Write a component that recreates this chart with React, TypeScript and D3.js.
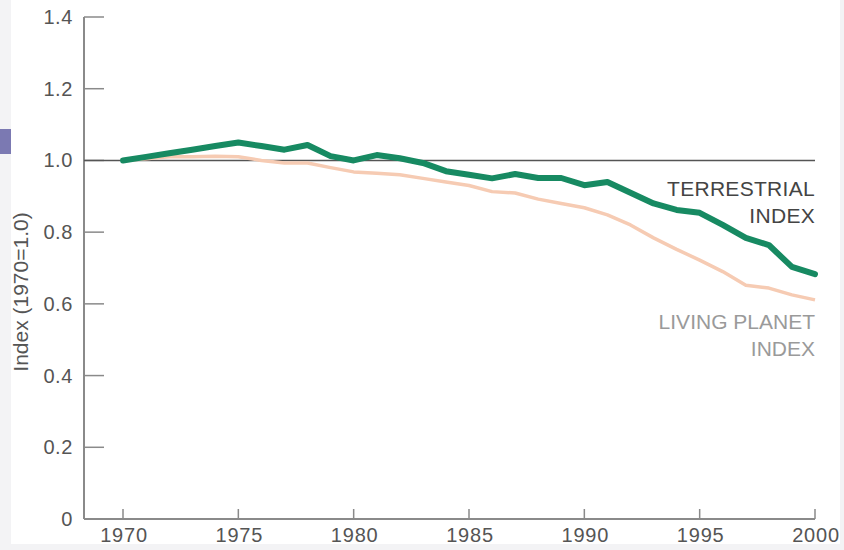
import React from 'react';
import * as d3 from 'd3';

// years 1970..2000
const years = d3.range(1970, 2001);

const terrestrial = [
  1.0, 1.01, 1.02, 1.03, 1.04, 1.05, 1.04, 1.03, 1.043, 1.012, 1.0,
  1.015, 1.006, 0.993, 0.97, 0.96, 0.95, 0.962, 0.951, 0.951, 0.931,
  0.94, 0.91, 0.88, 0.862, 0.854, 0.82, 0.784, 0.764, 0.703, 0.683,
];

const livingPlanet = [
  1.0, 1.005, 1.01, 1.01, 1.012, 1.01, 1.0, 0.993, 0.993, 0.98, 0.968,
  0.964, 0.96, 0.95, 0.94, 0.93, 0.913, 0.909, 0.892, 0.88, 0.868,
  0.848, 0.82, 0.784, 0.752, 0.722, 0.69, 0.652, 0.644, 0.625, 0.611,
];

const yTicks = [0, 0.2, 0.4, 0.6, 0.8, 1.0, 1.2, 1.4];
const xTicks = [1970, 1975, 1980, 1985, 1990, 1995, 2000];

const W = 844;
const H = 550;

const App = () => {
  const x = d3.scaleLinear().domain([1970, 2000]).range([123, 815]);
  const y = d3.scaleLinear().domain([0, 1.4]).range([519, 17]);
  const x0 = 84;

  const line = d3
    .line<number>()
    .x((_, i) => x(years[i]))
    .y((d) => y(d));

  const font = 'Liberation Sans, Arial, sans-serif';

  return (
    <svg
      width={W}
      height={H}
      style={{ position: 'absolute', left: 0, top: 0, background: '#fff' }}
      fontFamily={font}
    >
      {/* page edges */}
      <rect x={0} y={0} width={11} height={H} fill="#f3f3f5" />
      <rect x={0} y={544} width={W} height={6} fill="#f3f3f5" />
      <rect x={840} y={0} width={4} height={H} fill="#f3f3f5" />
      <rect x={0} y={129} width={11} height={25} fill="#7b79b2" />

      {/* axes */}
      <line x1={x0} x2={x0} y1={y(1.4)} y2={y(0)} stroke="#8a8a8a" strokeWidth={2} />
      <line x1={x0} x2={x(2000)} y1={y(0)} y2={y(0)} stroke="#8a8a8a" strokeWidth={2} />
      {yTicks.map((t) => (
        <g key={t}>
          {t > 0 && (
            <line x1={x0} x2={x0 + 20} y1={y(t)} y2={y(t)} stroke="#8a8a8a" strokeWidth={1.5} />
          )}
          <text
            x={73}
            y={y(t)}
            dy="0.35em"
            textAnchor="end"
            fontSize={20}
            letterSpacing={0.6}
            fill="#555"
          >
            {t === 0 ? '0' : t.toFixed(1)}
          </text>
        </g>
      ))}
      {xTicks.map((t) => (
        <g key={t}>
          <line x1={x(t)} x2={x(t)} y1={y(0)} y2={y(0) - 10} stroke="#8a8a8a" strokeWidth={1.5} />
          <text
            x={x(t) + 1}
            y={542}
            textAnchor="middle"
            fontSize={20}
            letterSpacing={0.8}
            fill="#555"
          >
            {t}
          </text>
        </g>
      ))}
      <text
        transform={`translate(28,292) rotate(-90)`}
        textAnchor="middle"
        fontSize={21}
        fill="#555"
      >
        Index (1970=1.0)
      </text>

      {/* baseline at 1.0 */}
      <line x1={x0} x2={x(2000)} y1={y(1)} y2={y(1)} stroke="#555" strokeWidth={1.5} />

      {/* series */}
      <path
        d={line(livingPlanet) || ''}
        fill="none"
        stroke="#f6cbb3"
        strokeWidth={3.5}
        strokeLinejoin="round"
      />
      <path
        d={line(terrestrial) || ''}
        fill="none"
        stroke="#178a62"
        strokeWidth={6}
        strokeLinejoin="round"
        strokeLinecap="round"
      />

      {/* labels */}
      <g textAnchor="end" fontSize={21}>
        <text x={815} y={196} fill="#444" letterSpacing={0.3}>TERRESTRIAL</text>
        <text x={815} y={223} fill="#444" letterSpacing={0.3}>INDEX</text>
        <text x={815} y={329} fill="#9a9a9a">LIVING PLANET</text>
        <text x={815} y={356} fill="#9a9a9a">INDEX</text>
      </g>
    </svg>
  );
};

export default App;
